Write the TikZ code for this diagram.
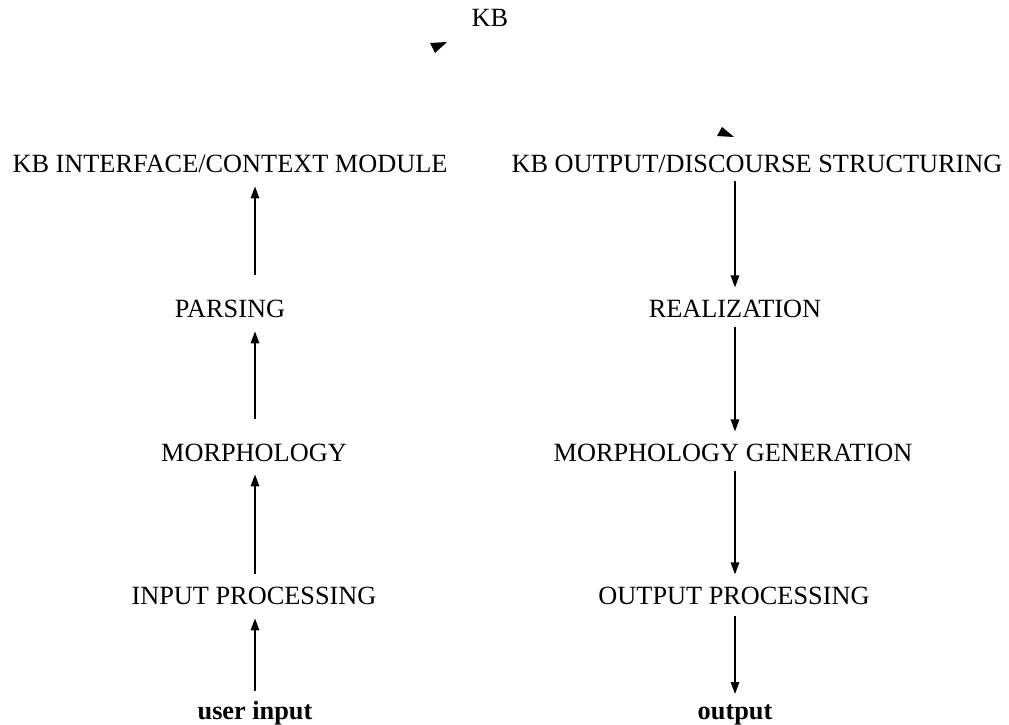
\documentclass[tikz,border=0pt]{standalone}
\usepackage{fontspec}
\setmainfont{Liberation Serif}
\usetikzlibrary{arrows.meta,calc}
\begin{document}
\begin{tikzpicture}[x=1pt,y=-1pt,
  lab/.style={anchor=base,inner sep=0pt,font=\fontsize{26.3}{30}\selectfont},
  arr/.style={line width=1.5pt,-{Triangle[length=12pt,width=8.5pt]}}]
\useasboundingbox (0,0) rectangle (1009,725);
\node[lab] (kb) at (490,27) {KB};
\node[lab] (kbi) at (230,172) {KB INTERFACE/CONTEXT MODULE};
\node[lab] (kbo) at (757,172) {KB OUTPUT/DISCOURSE STRUCTURING};
\node[lab] (pars) at (230,317) {PARSING};
\node[lab] (real) at (735,317) {REALIZATION};
\node[lab] (morph) at (254,461) {MORPHOLOGY};
\node[lab] (mgen) at (733,461) {MORPHOLOGY GENERATION};
\node[lab] (inp) at (254,604) {INPUT PROCESSING};
\node[lab] (outp) at (734,604) {OUTPUT PROCESSING};
\node[lab,font=\fontsize{26.3}{30}\selectfont\bfseries] (ui) at (255,719) {user input};
\node[lab,font=\fontsize{26.3}{30}\selectfont\bfseries] (out) at (735,719) {output};
\coordinate (xl) at (255,0);
\coordinate (xr) at (735,0);
% left column
\draw[arr] ($(ui.north -| xl)+(0,-10)$) -- ($(inp.south -| xl)+(0,14)$);
\draw[arr] ($(inp.south -| xl)+(0,-30)$) -- ($(morph.south -| xl)+(0,13)$);
\draw[arr] ($(morph.south -| xl)+(0,-42)$) -- ($(pars.south -| xl)+(0,14)$);
\draw[arr] ($(pars.south -| xl)+(0,-42)$) -- ($(kbi.south -| xl)+(0,14)$);
% right column
\draw[arr] ($(kbo.south -| xr)+(0,9)$) -- ($(real.north -| xr)+(0,-12)$);
\draw[arr] ($(real.south -| xr)+(0,10)$) -- ($(mgen.north -| xr)+(0,-12)$);
\draw[arr] ($(mgen.south -| xr)+(0,10)$) -- ($(outp.north -| xr)+(0,-12)$);
\draw[arr] ($(outp.south -| xr)+(0,12)$) -- ($(out.north -| xr)+(0,-10)$);
% arrow tips without shafts near KB
\fill (430,43) -- (447,42) -- (435,53) -- cycle;
\fill (722,127) -- (734,137) -- (717,136) -- cycle;
\end{tikzpicture}
\end{document}
